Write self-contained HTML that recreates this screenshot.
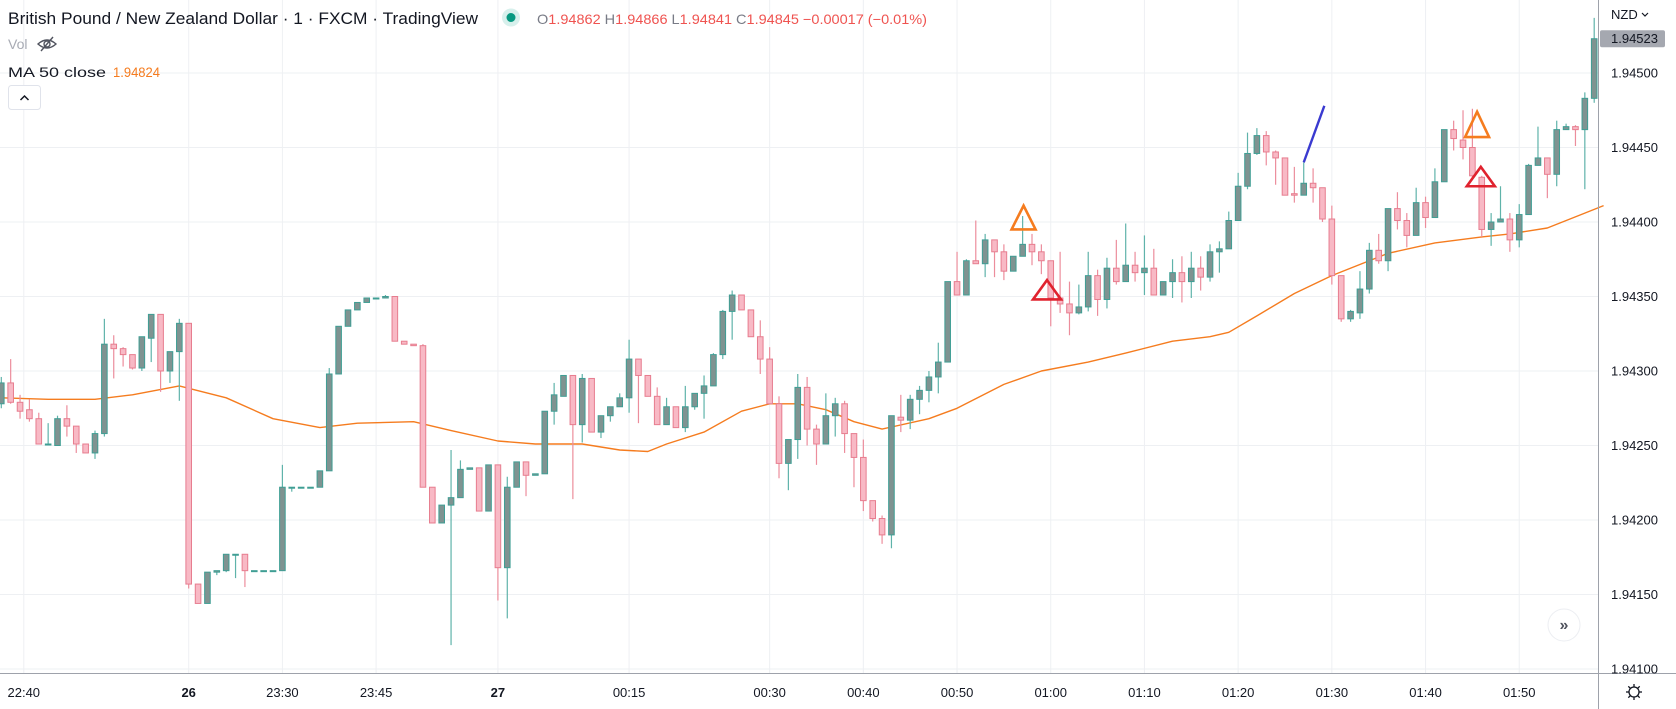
<!DOCTYPE html>
<html><head><meta charset="utf-8"><style>
html,body{margin:0;padding:0;background:#fff;}
svg{display:block;font-family:"Liberation Sans",sans-serif;}
</style></head><body>
<svg id="chart" width="1676" height="709" viewBox="0 0 1676 709" xmlns="http://www.w3.org/2000/svg">
<rect x="0" y="0" width="1676" height="709" fill="#ffffff"/>
<g id="grid"></g>
<g id="ma"></g>
<g id="candles"></g>
<g id="annot"></g>
<line x1="1598.5" y1="0" x2="1598.5" y2="709" stroke="#9ea2ab" stroke-width="1"/>
<line x1="0" y1="673.5" x2="1676" y2="673.5" stroke="#9ea2ab" stroke-width="1"/>
<g id="yaxis"></g>
<g id="xaxis"></g>
<g>
<text x="8" y="24" font-size="16.5" fill="#131722" textLength="470" lengthAdjust="spacingAndGlyphs">British Pound / New Zealand Dollar · 1 · FXCM · TradingView</text>
<circle cx="511" cy="17.5" r="9" fill="#d7f0ec"/>
<circle cx="511" cy="17.5" r="4.5" fill="#089981"/>
<text x="537" y="24" font-size="14" fill="#ef5350" textLength="390" lengthAdjust="spacingAndGlyphs"><tspan fill="#787b86">O</tspan>1.94862 <tspan fill="#787b86">H</tspan>1.94866 <tspan fill="#787b86">L</tspan>1.94841 <tspan fill="#787b86">C</tspan>1.94845 −0.00017 (−0.01%)</text>
<text x="8" y="49" font-size="14" fill="#a8abb4">Vol</text>
<g transform="translate(47,44)" fill="none" stroke="#50535e" stroke-width="1.4">
<path d="M-9 0 Q0 -8 9 0 Q0 8 -9 0 Z"/><circle cx="0" cy="0" r="3"/><line x1="-6" y1="7" x2="6" y2="-7"/></g>
<text x="8" y="77" font-size="14" fill="#131722" textLength="98" lengthAdjust="spacingAndGlyphs">MA 50 close</text>
<text x="113" y="77" font-size="14" fill="#f57c1f" textLength="47" lengthAdjust="spacingAndGlyphs">1.94824</text>
<rect x="8.5" y="85.5" width="32" height="24" rx="3" fill="#fff" stroke="#e0e3eb"/>
<path d="M20.5 100 L24.5 96 L28.5 100" fill="none" stroke="#131722" stroke-width="1.5"/>
</g>
<text x="1611" y="19" font-size="13" fill="#131722">NZD</text>
<path d="M1642 13 L1645 16 L1648 13" fill="none" stroke="#131722" stroke-width="1.2"/>
<g>
<circle cx="1564" cy="625" r="16" fill="#fff" stroke="#eceef2"/>
<text x="1564" y="630" font-size="16" font-weight="bold" fill="#50535e" text-anchor="middle">»</text>
</g>
<g transform="translate(1634,692)" fill="none" stroke="#131722" stroke-width="1.3">
<circle r="5"/><line x1="0" y1="-8" x2="0" y2="-5"/><line x1="0" y1="5" x2="0" y2="8"/><line x1="-8" y1="0" x2="-5" y2="0"/><line x1="5" y1="0" x2="8" y2="0"/>
<line x1="-5.7" y1="-5.7" x2="-3.5" y2="-3.5"/><line x1="3.5" y1="3.5" x2="5.7" y2="5.7"/><line x1="-5.7" y1="5.7" x2="-3.5" y2="3.5"/><line x1="3.5" y1="-3.5" x2="5.7" y2="-5.7"/>
</g>
</svg>
<script>
// price data (GBP/NZD, 1 minute)
const opens=[1.94278,1.94292,1.94279,1.94274,1.94268,1.94251,1.94250,1.94268,1.94263,1.94251,
1.94245,1.94258,1.94318,1.94315,1.94311,1.94302,1.94322,1.94338,1.94300,1.94313,
1.94332,1.94157,1.94144,1.94165,1.94166,1.94177,1.94177,1.94166,1.94166,1.94166,
1.94166,1.94222,1.94222,1.94222,1.94222,1.94233,1.94298,1.94330,1.94341,1.94346,
1.94349,1.94349,1.94350,1.94320,1.94318,1.94317,1.94222,1.94198,1.94210,1.94215,
1.94234,1.94235,1.94206,1.94237,1.94168,1.94222,1.94239,1.94230,1.94231,1.94273,
1.94283,1.94297,1.94264,1.94295,1.94259,1.94270,1.94276,1.94282,1.94308,1.94297,
1.94283,1.94264,1.94276,1.94262,1.94276,1.94285,1.94290,1.94311,1.94340,1.94351,
1.94341,1.94323,1.94308,1.94278,1.94238,1.94254,1.94289,1.94261,1.94251,1.94270,
1.94278,1.94258,1.94242,1.94213,1.94201,1.94190,1.94269,1.94267,1.94281,1.94287,
1.94296,1.94306,1.94360,1.94351,1.94374,1.94372,1.94388,1.94380,1.94367,1.94377,
1.94385,1.94380,1.94374,1.94349,1.94345,1.94339,1.94343,1.94364,1.94348,1.94369,
1.94360,1.94371,1.94366,1.94369,1.94351,1.94360,1.94366,1.94360,1.94369,1.94363,
1.94380,1.94382,1.94401,1.94424,1.94446,1.94458,1.94447,1.94443,1.94419,1.94418,
1.94426,1.94423,1.94402,1.94364,1.94335,1.94339,1.94355,1.94381,1.94374,1.94409,
1.94401,1.94391,1.94413,1.94403,1.94427,1.94462,1.94455,1.94450,1.94430,1.94395,
1.94400,1.94402,1.94388,1.94405,1.94438,1.94443,1.94432,1.94462,1.94464,1.94462,
1.94483];
const highs=[1.94296,1.94308,1.94284,1.94281,1.94272,1.94265,1.94270,1.94277,1.94263,1.94251,
1.94260,1.94335,1.94324,1.94316,1.94311,1.94323,1.94338,1.94338,1.94313,1.94335,
1.94332,1.94157,1.94165,1.94166,1.94177,1.94177,1.94177,1.94166,1.94166,1.94166,
1.94237,1.94222,1.94222,1.94222,1.94233,1.94302,1.94330,1.94341,1.94346,1.94349,
1.94349,1.94351,1.94350,1.94320,1.94318,1.94318,1.94222,1.94210,1.94247,1.94240,
1.94235,1.94235,1.94237,1.94237,1.94229,1.94239,1.94239,1.94231,1.94273,1.94292,
1.94297,1.94297,1.94298,1.94295,1.94270,1.94276,1.94285,1.94321,1.94308,1.94297,
1.94289,1.94282,1.94276,1.94290,1.94285,1.94297,1.94312,1.94341,1.94354,1.94351,
1.94341,1.94334,1.94316,1.94283,1.94254,1.94298,1.94296,1.94264,1.94285,1.94282,
1.94280,1.94258,1.94254,1.94213,1.94203,1.94270,1.94284,1.94284,1.94290,1.94300,
1.94319,1.94360,1.94380,1.94375,1.94401,1.94392,1.94388,1.94385,1.94377,1.94404,
1.94392,1.94385,1.94374,1.94380,1.94360,1.94358,1.94380,1.94368,1.94376,1.94388,
1.94399,1.94380,1.94391,1.94382,1.94360,1.94375,1.94377,1.94380,1.94377,1.94385,
1.94387,1.94407,1.94433,1.94460,1.94463,1.94461,1.94448,1.94443,1.94437,1.94440,
1.94436,1.94423,1.94411,1.94364,1.94341,1.94367,1.94386,1.94392,1.94409,1.94420,
1.94406,1.94423,1.94417,1.94436,1.94462,1.94468,1.94475,1.94476,1.94431,1.94406,
1.94424,1.94406,1.94412,1.94439,1.94464,1.94443,1.94468,1.94466,1.94465,1.94487,
1.94537];
const lows=[1.94275,1.94278,1.94268,1.94266,1.94251,1.94250,1.94250,1.94256,1.94245,1.94245,
1.94241,1.94256,1.94295,1.94303,1.94301,1.94300,1.94306,1.94286,1.94292,1.94280,
1.94154,1.94144,1.94144,1.94163,1.94165,1.94161,1.94155,1.94166,1.94166,1.94166,
1.94166,1.94219,1.94222,1.94222,1.94222,1.94233,1.94298,1.94330,1.94341,1.94346,
1.94349,1.94349,1.94320,1.94318,1.94317,1.94222,1.94198,1.94198,1.94116,1.94215,
1.94234,1.94206,1.94206,1.94146,1.94134,1.94222,1.94216,1.94230,1.94231,1.94264,
1.94283,1.94214,1.94252,1.94259,1.94255,1.94266,1.94276,1.94272,1.94265,1.94283,
1.94264,1.94264,1.94262,1.94259,1.94274,1.94268,1.94290,1.94308,1.94321,1.94341,
1.94323,1.94298,1.94278,1.94228,1.94220,1.94241,1.94250,1.94237,1.94251,1.94256,
1.94245,1.94222,1.94206,1.94199,1.94184,1.94181,1.94259,1.94261,1.94271,1.94279,
1.94285,1.94306,1.94351,1.94351,1.94372,1.94363,1.94363,1.94361,1.94367,1.94377,
1.94371,1.94365,1.94330,1.94339,1.94324,1.94338,1.94340,1.94337,1.94342,1.94358,
1.94360,1.94360,1.94351,1.94351,1.94351,1.94349,1.94346,1.94349,1.94354,1.94360,
1.94366,1.94382,1.94401,1.94422,1.94445,1.94438,1.94425,1.94418,1.94413,1.94418,
1.94413,1.94400,1.94358,1.94333,1.94333,1.94335,1.94352,1.94372,1.94367,1.94395,
1.94383,1.94391,1.94396,1.94403,1.94427,1.94448,1.94442,1.94430,1.94390,1.94384,
1.94400,1.94380,1.94383,1.94405,1.94438,1.94416,1.94424,1.94462,1.94451,1.94422,
1.94480];
const closes=[1.94292,1.94279,1.94273,1.94268,1.94251,1.94251,1.94268,1.94263,1.94251,1.94245,
1.94258,1.94318,1.94315,1.94311,1.94302,1.94323,1.94338,1.94300,1.94313,1.94332,
1.94157,1.94144,1.94165,1.94166,1.94177,1.94177,1.94166,1.94166,1.94166,1.94166,
1.94222,1.94222,1.94222,1.94222,1.94233,1.94298,1.94330,1.94341,1.94346,1.94349,
1.94349,1.94350,1.94320,1.94318,1.94317,1.94222,1.94198,1.94210,1.94215,1.94234,
1.94235,1.94206,1.94237,1.94168,1.94222,1.94239,1.94230,1.94231,1.94273,1.94284,
1.94297,1.94264,1.94295,1.94259,1.94270,1.94276,1.94282,1.94308,1.94297,1.94283,
1.94264,1.94276,1.94262,1.94276,1.94285,1.94290,1.94311,1.94340,1.94351,1.94341,
1.94323,1.94308,1.94278,1.94238,1.94254,1.94289,1.94261,1.94251,1.94270,1.94278,
1.94258,1.94242,1.94213,1.94201,1.94190,1.94270,1.94267,1.94281,1.94287,1.94296,
1.94306,1.94360,1.94351,1.94374,1.94372,1.94388,1.94380,1.94367,1.94377,1.94385,
1.94380,1.94374,1.94349,1.94345,1.94339,1.94343,1.94364,1.94348,1.94369,1.94360,
1.94371,1.94366,1.94369,1.94351,1.94360,1.94366,1.94360,1.94369,1.94363,1.94380,
1.94382,1.94401,1.94424,1.94446,1.94458,1.94447,1.94443,1.94418,1.94418,1.94426,
1.94423,1.94402,1.94364,1.94335,1.94340,1.94355,1.94381,1.94374,1.94409,1.94401,
1.94391,1.94413,1.94403,1.94427,1.94462,1.94456,1.94450,1.94431,1.94395,1.94400,
1.94402,1.94388,1.94405,1.94438,1.94443,1.94432,1.94462,1.94464,1.94462,1.94483,
1.94523];
// MA 50 close, sampled at candle indices
const maIndex=[0,5,10,14,19,24,29,34,38,44,48,53,57,62,66,69,71,75,79,82,85,88,91,94,99,102,107,111,116,120,125,129,131,134,138,142,148,153,158,161,165,169,171];
const maValues=[1.94282,1.94281,1.94281,1.94284,1.94290,1.94282,1.94268,1.94262,1.94265,1.94266,1.94260,1.94253,1.94251,1.94251,1.94247,1.94246,1.94251,1.94259,1.94273,1.94278,1.94278,1.94274,1.94266,1.94261,1.94268,1.94275,1.94291,1.94300,1.94306,1.94312,1.94320,1.94323,1.94326,1.94337,1.94352,1.94364,1.94379,1.94386,1.94390,1.94392,1.94396,1.94406,1.94411];
// axes
const priceTicks=[1.941,1.9415,1.942,1.9425,1.943,1.9435,1.944,1.9445,1.945];
const priceTickLabels=["1.94100","1.94150","1.94200","1.94250","1.94300","1.94350","1.94400","1.94450","1.94500"];
const timeTickIndex=[2.4,20,30,40,53,67,82,92,102,112,122,132,142,152,162];
const timeTickLabels=["22:40","26","23:30","23:45","27","00:15","00:30","00:40","00:50","01:00","01:10","01:20","01:30","01:40","01:50"];
const lastPrice=1.94523;
// drawings: [index, top price, base price, half-width px]
const orangeTriangles=[[109.1,1.94411,1.94395],[157.5,1.94474,1.94457]];
const redTriangles=[[111.6,1.94361,1.94348],[157.9,1.94437,1.94424]];
const trendLine=[[139,1.94440],[141.2,1.94478]];

const NS="http://www.w3.org/2000/svg";
function xOf(i){return 1.3+i*9.37;}
function yOf(p){return 73+(1.945-p)*149000;}
function mk(tag,attrs,parent){const e=document.createElementNS(NS,tag);for(const k in attrs)e.setAttribute(k,attrs[k]);parent.appendChild(e);return e;}

const grid=document.getElementById('grid');
priceTicks.forEach(p=>{
  const l=mk('line',{x1:0,x2:1598,y1:yOf(p),y2:yOf(p),stroke:'#eef0f3','stroke-width':1},grid);
  
  
});
timeTickIndex.forEach(i=>{
  const l=mk('line',{x1:xOf(i),x2:xOf(i),y1:0,y2:673,stroke:'#eef0f3','stroke-width':1},grid);
  
  
});

const yaxis=document.getElementById('yaxis');
priceTicks.forEach((p,k)=>{
  const t=mk('text',{x:1611,y:yOf(p)+4.5,'font-size':13,fill:'#131722'},yaxis);
  t.textContent=priceTickLabels[k];
  
  
});
const tag=mk('rect',{x:1600,y:yOf(lastPrice)-8.5,width:65,height:17,rx:2,fill:'#a5a8b0'},yaxis);


const tagT=mk('text',{x:1611,y:yOf(lastPrice)+4.5,'font-size':13,fill:'#131722'},yaxis);
tagT.textContent=lastPrice.toFixed(5);



const xaxis=document.getElementById('xaxis');
timeTickIndex.forEach((i,k)=>{
  const lab=timeTickLabels[k];
  const bold=(lab.length<=2);
  const t=mk('text',{x:xOf(i),y:697,'font-size':13,fill:'#131722','text-anchor':'middle','font-weight':bold?'bold':'normal'},xaxis);
  t.textContent=lab;
  
  
});

const ma=document.getElementById('ma');
let d='';
maIndex.forEach((i,k)=>{d+=(k?'L':'M')+xOf(i).toFixed(1)+' '+yOf(maValues[k]).toFixed(1)+' ';});
const maPath=mk('path',{d:d,fill:'none',stroke:'#f57c1f','stroke-width':1.4,'stroke-linejoin':'round'},ma);



const cg=document.getElementById('candles');
opens.forEach((o,i)=>{
  const c=closes[i],h=highs[i],l=lows[i];
  const up=c>=o;
  const x=xOf(i);
  const wick=mk('line',{x1:x,x2:x,y1:yOf(h),y2:yOf(l),stroke:up?'#5fb3aa':'#ec8d9c','stroke-width':1.2},cg);
  
  
  const top=yOf(Math.max(o,c)),bot=yOf(Math.min(o,c));
  const body=mk('rect',{x:x-2.8,y:top,width:5.6,height:Math.max(bot-top,1),fill:up?'#7f9391':'#f8b9c5',stroke:up?'#3f9e94':'#e77d8f','stroke-width':1},cg);
  
  
});

const an=document.getElementById('annot');
function tri(arr,color,half,name){
  arr.forEach(t=>{
    const x=xOf(t[0]),yt=yOf(t[1]),yb=yOf(t[2]);
    const p=mk('path',{d:`M${x} ${yt} L${x+half} ${yb} L${x-half} ${yb} Z`,fill:'none',stroke:color,'stroke-width':2.6,'stroke-linejoin':'miter'},an);
    
    
  });
}
tri(orangeTriangles,'#f57c1f',12,'orange-triangle-marker');
tri(redTriangles,'#e0222e',14,'red-triangle-marker');
const tl=mk('line',{x1:xOf(trendLine[0][0]),y1:yOf(trendLine[0][1]),x2:xOf(trendLine[1][0]),y2:yOf(trendLine[1][1]),stroke:'#3a3ad0','stroke-width':2.4},an);


</script>
</body></html>
